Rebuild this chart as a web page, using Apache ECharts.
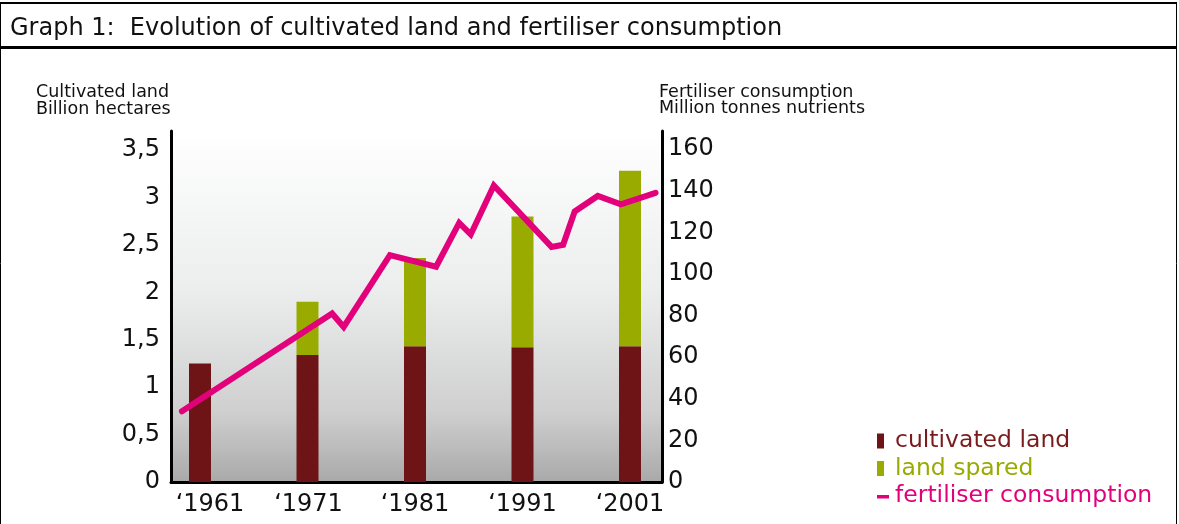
<!DOCTYPE html>
<html>
<head>
<meta charset="utf-8">
<title>Graph 1</title>
<script src="https://cdn.jsdelivr.net/npm/echarts@6/dist/echarts.min.js"></script>
<style>
  html, body { margin: 0; padding: 0; background: #fff; }
  #chart { width: 1179px; height: 524px; }
</style>
</head>
<body>
<div id="chart"></div>
<script type="text/javascript">
    // bars: cultivated land + land spared (billion hectares)
    var barYears = ['1961', '1971', '1981', '1991', '2001'];
    var cultivated = [1.25, 1.34, 1.43, 1.42, 1.43];
    var spared = [0, 0.56, 0.93, 1.38, 1.85];

    // fertiliser consumption (million tonnes nutrients)
    var fertYears = [1961, 1974, 1975, 1979, 1983, 1985, 1986, 1988, 1993, 1994, 1995, 1997, 1999, 2002];
    var fertValues = [34, 81, 74.5, 109, 103.5, 124.5, 119, 142.5, 113, 114, 130, 137.5, 133.5, 139];

    var leftTicks = [0, 0.5, 1, 1.5, 2, 2.5, 3, 3.5];
    var rightTicks = [0, 20, 40, 60, 80, 100, 120, 140, 160];

    var numFont = 'DejaVu Sans';
    var darkRed = '#6e1416';
    var green = '#9aab00';
    var magenta = '#e3007b';

    function pairs(xs, ys) {
        var out = [];
        for (var i = 0; i < xs.length; i++) out.push([xs[i], ys[i]]);
        return out;
    }

    // label nudges: in the original the first labels sit a bit to the right
    var labelPad = [[0, 0, 0, 20], [0, 0, 0, 2], [0, 0, 0, 0], [0, 0, 0, 0], [0, 0, 0, 0]];
    var yearCats = barYears.map(function (y, i) {
        return {value: y, textStyle: {padding: labelPad[i]}};
    });

    var myChart = echarts.init(document.getElementById('chart'), null, {renderer: 'canvas'});
    var option = {
        animation: false,
        backgroundColor: '#fff',
        grid: [
            {   // main plot frame (axes + line)
                left: 171, right: 517, top: 131, bottom: 42,
                show: true,
                borderWidth: 0,
                backgroundColor: new echarts.graphic.LinearGradient(0, 0, 0, 1, [
                    {offset: 0, color: '#ffffff'},
                    {offset: 0.45, color: '#eceded'},
                    {offset: 0.8, color: '#cfcfcf'},
                    {offset: 1, color: '#a9a9a9'}
                ])
            },
            {   // bars: 5 bands of 107.5px so the centres fall on the bars
                left: 146.25, width: 537.5, top: 131, bottom: 42
            }
        ],
        xAxis: [
            {
                type: 'value', gridIndex: 0, min: 0, max: 1,
                axisLine: {show: true, lineStyle: {color: '#000', width: 3}},
                axisTick: {show: false},
                splitLine: {show: false},
                axisLabel: {show: false}
            },
            {
                type: 'value', gridIndex: 0, min: 1960.05, max: 2002.56, show: false
            },
            {
                type: 'category', gridIndex: 1, data: yearCats,
                axisLine: {show: false},
                axisTick: {show: false},
                splitLine: {show: false},
                axisLabel: {
                    formatter: function (v) { return '\u2018' + v; },
                    color: '#111', fontFamily: numFont, fontSize: 24, margin: 11
                }
            }
        ],
        yAxis: [
            {
                type: 'value', gridIndex: 0, min: 0, max: 3.7, position: 'left',
                axisLine: {show: true, lineStyle: {color: '#000', width: 3}},
                axisTick: {show: false},
                splitLine: {show: false},
                axisLabel: {
                    customValues: leftTicks,
                    formatter: function (v) { return String(v).replace('.', ','); },
                    color: '#111', fontFamily: numFont, fontSize: 24, margin: 11
                }
            },
            {
                type: 'value', gridIndex: 0, min: 0, max: 168.7, position: 'right',
                axisLine: {show: true, lineStyle: {color: '#000', width: 3}},
                axisTick: {show: false},
                splitLine: {show: false},
                axisLabel: {
                    customValues: rightTicks,
                    color: '#111', fontFamily: numFont, fontSize: 24, margin: 6
                }
            },
            {
                type: 'value', gridIndex: 1, min: 0, max: 3.7, show: false
            }
        ],
        legend: {
            orient: 'vertical',
            left: 872, top: 424,
            itemWidth: 13, itemHeight: 15,
            itemGap: 3.5,
            symbolKeepAspect: false,
            textStyle: {fontFamily: numFont, fontSize: 23.5, lineHeight: 22},
            data: [
                {name: 'cultivated land', icon: 'path://M0,0L7,0L7,15L0,15Z M13,15L13,15Z',
                    itemStyle: {borderWidth: 0}, textStyle: {color: '#7a1c1e'}},
                {name: 'land spared', icon: 'path://M0,0L7,0L7,15L0,15Z M13,15L13,15Z',
                    itemStyle: {borderWidth: 0}, textStyle: {color: green}},
                {name: 'fertiliser consumption', icon: 'path://M0,0L0,0Z M0,6.5L12,6.5L12,10L0,10Z M13,15L13,15Z',
                    itemStyle: {borderWidth: 0}, textStyle: {color: magenta}}
            ]
        },
        graphic: [
            // frame
            {type: 'line', shape: {x1: 0.5, y1: 3, x2: 0.5, y2: 524}, style: {stroke: '#000', lineWidth: 1}},
            {type: 'line', shape: {x1: 1176.5, y1: 3, x2: 1176.5, y2: 524}, style: {stroke: '#000', lineWidth: 1}},
            {type: 'line', shape: {x1: 0, y1: 3, x2: 1177, y2: 3}, style: {stroke: '#000', lineWidth: 2}},
            {type: 'line', shape: {x1: 0, y1: 47.5, x2: 1177, y2: 47.5}, style: {stroke: '#000', lineWidth: 3}},
            {type: 'text', left: 10, top: 17, style: {
                text: 'Graph 1:  Evolution of cultivated land and fertiliser consumption',
                fontFamily: numFont, fontSize: 24, fill: '#111'}},
            {type: 'text', left: 36, top: 83, style: {
                text: 'Cultivated land\nBillion hectares',
                fontFamily: numFont, fontSize: 17.5, lineHeight: 17, fill: '#111'}},
            {type: 'text', left: 659, top: 83, style: {
                text: 'Fertiliser consumption\nMillion tonnes nutrients',
                fontFamily: numFont, fontSize: 17.5, lineHeight: 16, fill: '#111'}}
        ],
        series: [
            {
                name: 'cultivated land', type: 'bar', stack: 'land',
                xAxisIndex: 2, yAxisIndex: 2,
                barWidth: 22,
                itemStyle: {color: darkRed},
                data: cultivated
            },
            {
                name: 'land spared', type: 'bar', stack: 'land',
                xAxisIndex: 2, yAxisIndex: 2,
                barWidth: 22,
                itemStyle: {color: green},
                data: spared
            },
            {
                name: 'fertiliser consumption', type: 'line',
                xAxisIndex: 1, yAxisIndex: 1,
                symbol: 'none',
                itemStyle: {color: magenta},
                lineStyle: {color: magenta, width: 6, cap: 'round', join: 'miter'},
                z: 5,
                data: pairs(fertYears, fertValues)
            }
        ]
    };
    myChart.setOption(option);
</script>
</body>
</html>
